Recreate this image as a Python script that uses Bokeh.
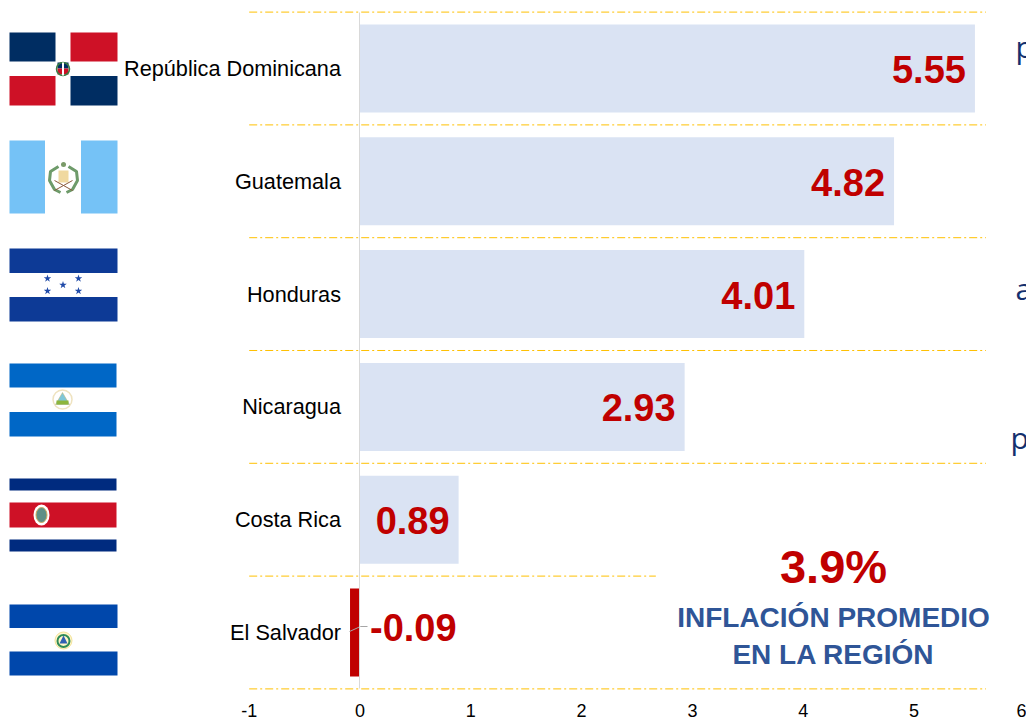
from bokeh.plotting import figure
from bokeh.embed import file_html
from bokeh.resources import INLINE
from bokeh.models import Range1d, FixedTicker, LinearAxis
from bokeh.core.properties import value

countries = ["El Salvador", "Costa Rica", "Nicaragua", "Honduras", "Guatemala", "República Dominicana"]
inflation = [-0.09, 0.89, 2.93, 4.01, 4.82, 5.55]
x_ticks = [-1, 0, 1, 2, 3, 4, 5, 6]
x_tick_labels = ["-1", "0", "1", "2", "3", "4", "5", "6"]
headline = "3.9%"
caption = ["INFLACIÓN PROMEDIO", "EN LA REGIÓN"]
cut_off_text = ["p", "a", "p"]

positions = list(range(len(countries)))
SANS = value("Liberation Sans")
RED = "#C00000"
BLUE = "#2F5597"

p = figure(width=1026, height=719, output_backend="svg", toolbar_location=None,
           x_range=Range1d(-3.2446, 6.0154), y_range=Range1d(-0.7713, 5.6028),
           min_border=0, min_border_left=0, min_border_right=0, min_border_top=0, min_border_bottom=0,
           x_axis_location=None, y_axis_location=None, outline_line_color=None,
           background_fill_color="white", border_fill_color="white")
p.grid.visible = False
p.extra_x_ranges = {"px": Range1d(0, 1026)}
p.extra_y_ranges = {"px": Range1d(719, 0)}
PX = dict(x_range_name="px", y_range_name="px")

# bars
pos_i = [i for i, v in enumerate(inflation) if v >= 0]
neg_i = [i for i, v in enumerate(inflation) if v < 0]
p.hbar(y=[positions[i] for i in pos_i], left=0, right=[inflation[i] for i in pos_i], height=0.78,
       fill_color="#DAE3F3", line_color=None)
p.hbar(y=[positions[i] for i in neg_i], left=0, right=[inflation[i] for i in neg_i], height=0.78,
       fill_color=RED, line_color=None)

# dash-dot separators between rows
seps = [i - 0.5 for i in positions] + [positions[-1] + 0.5]
for s in seps:
    end = 2.67 if s == 0.5 else 5.65
    p.line([-1, end], [s, s], line_color="#FFC000", line_width=1, line_dash="8 3 2 3")

# axes
yax = LinearAxis(fixed_location=0, ticker=FixedTicker(ticks=positions),
                 major_label_overrides={i: c for i, c in enumerate(countries)},
                 major_tick_line_color=None, minor_tick_line_color=None,
                 axis_line_color="#D9D9D9", axis_line_width=1, bounds=(-0.5, 5.5),
                 major_label_standoff=13, major_label_text_font="Liberation Sans",
                 major_label_text_font_size="21.7px", major_label_text_color="#000000")
p.add_layout(yax, "left")
xax = LinearAxis(fixed_location=-0.5, ticker=FixedTicker(ticks=x_ticks),
                 major_label_overrides={t: s for t, s in zip(x_ticks, x_tick_labels)},
                 major_tick_line_color=None, minor_tick_line_color=None, axis_line_color=None,
                 major_label_standoff=9, major_label_text_font="Liberation Sans",
                 major_label_text_font_size="18px", major_label_text_color="#000000")
p.add_layout(xax, "below")

# value labels
p.text(x=[inflation[i] for i in pos_i], y=[positions[i] for i in pos_i],
       text=[f"{inflation[i]:.2f}" for i in pos_i], x_offset=-9, y_offset=1,
       text_align="right", text_baseline="middle", text_font=SANS, text_font_style="bold",
       text_font_size="38px", text_color=RED)
p.text(x=[0 for i in neg_i], y=[positions[i] for i in neg_i],
       text=[f"{inflation[i]:.2f}" for i in neg_i], x_offset=10, y_offset=-5,
       text_align="left", text_baseline="middle", text_font=SANS, text_font_style="bold",
       text_font_size="38px", text_color=RED)

# leader line of the negative label
p.line([349, 360, 367], [631, 626, 626], line_color="#A6A6A6", line_width=1, **PX)

# region summary
p.text(x=[833], y=[566], text=[headline], text_align="center", text_baseline="middle", text_font=SANS,
       text_font_style="bold", text_font_size="47px", text_color=RED, **PX)
p.text(x=[833, 833], y=[617, 654], text=caption, text_align="center", text_baseline="middle", text_font=SANS,
       text_font_style="bold", text_font_size="28px", text_color=BLUE, **PX)

# clipped text from the right edge
p.text(x=[1015, 1015, 1010], y=[46, 288, 437], text=cut_off_text, text_align="left", text_baseline="middle",
       text_font=value("Open Sans"), text_font_size="30px", text_color="#14306E", **PX)


def box(x0, x1, y0, y1, c):
    p.quad(left=x0, right=x1, top=y0, bottom=y1, fill_color=c, line_color=None, **PX)


# Dominican Republic
box(9, 55, 32, 61, "#002D62"); box(70, 117, 32, 61, "#CE1126")
box(9, 55, 75.5, 105, "#CE1126"); box(70, 117, 75.5, 105, "#002D62")
box(57, 68, 62, 68, "#002D62"); box(57, 68, 68, 74, "#CE1126")
p.circle(x=[62.5], y=[68.5], radius=6.5, fill_color=None, line_color="#3A7D44", line_width=1.5, **PX)
box(61.5, 63.5, 62, 75, "#FFFFFF")

# Guatemala
box(9, 44.5, 140, 213, "#75C2F6"); box(80.5, 117, 140, 213, "#75C2F6")
p.line([58, 50, 49, 54, 60], [166, 171, 180, 189, 192], line_color="#6E9B6A", line_width=3, **PX)
p.line([68, 76, 77, 72, 66], [166, 171, 180, 189, 192], line_color="#6E9B6A", line_width=3, **PX)
box(58, 68, 170, 182, "#F0D9A0")
p.scatter(x=[63], y=[164], size=5, marker="circle", fill_color="#7A9A68", line_color=None, **PX)
p.line([54, 72], [190, 180], line_color="#8A5A3C", line_width=1, **PX)
p.line([54, 72], [180, 190], line_color="#8A5A3C", line_width=1, **PX)

# Honduras
box(9, 117, 248, 272.5, "#0D3A96"); box(9, 117, 296.5, 321, "#0D3A96")
p.scatter(x=[47, 78, 62.5, 47, 78], y=[278, 278, 284.5, 290.5, 290.5], size=8, marker="star",
          fill_color="#1F4AA8", line_color=None, **PX)

# Nicaragua
box(9, 116, 363, 387, "#0067C6"); box(9, 116, 411.5, 436, "#0067C6")
p.circle(x=[62], y=[399], radius=9.5, fill_color=None, line_color="#EFE3C0", line_width=1.5, **PX)
p.patch([62, 69, 55], [392, 404, 404], fill_color="#7FC7D9", line_color="#C9B36A", line_width=0.5, **PX)
box(56, 68, 400, 404, "#8DB63C")

# Costa Rica
box(9, 116, 478, 490, "#002B7F"); box(9, 116, 539, 551, "#002B7F")
box(9, 116, 502, 527, "#CE1126")
p.ellipse(x=[41], y=[514.5], width=16, height=21, fill_color="#FFFFFF", line_color=None, **PX)
p.ellipse(x=[41], y=[514.5], width=11, height=15, fill_color="#5E8F86", line_color="#C9A95A", line_width=1, **PX)

# El Salvador
box(9, 117, 604, 627.5, "#0047AB"); box(9, 117, 651, 675, "#0047AB")
p.circle(x=[63], y=[640], radius=8.5, fill_color="#FFF6C8", line_color="#F2E29A", line_width=1, **PX)
p.circle(x=[63], y=[640.5], radius=6, fill_color=None, line_color="#2E8B57", line_width=2, **PX)
p.patch([63, 67, 59], [635, 643, 643], fill_color="#2F5FB3", line_color=None, **PX)

open("out.html", "w").write(file_html(p, INLINE))
